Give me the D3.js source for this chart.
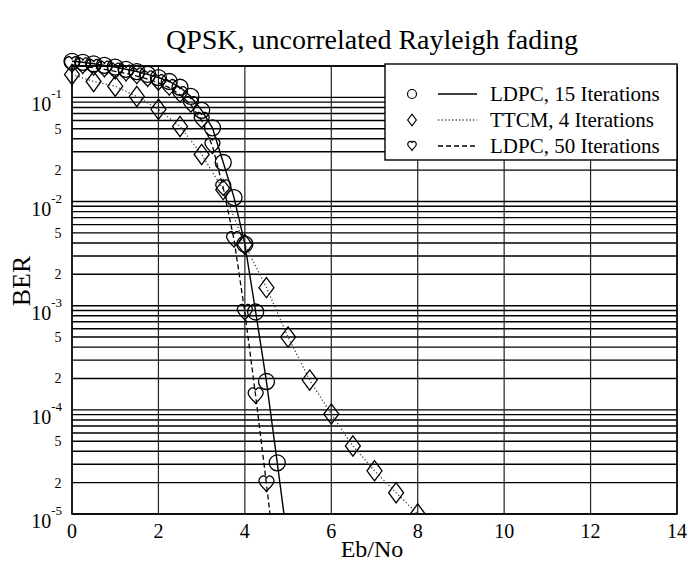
<!DOCTYPE html>
<html>
<head>
<meta charset="utf-8">
<script src="https://cdn.jsdelivr.net/npm/d3@7/dist/d3.min.js"></script>
<style>
  html, body { margin: 0; padding: 0; background: #fff; }
  svg { display: block; font-family: "Liberation Serif", "DejaVu Serif", "Times New Roman", serif; }
</style>
</head>
<body>
<svg id="chart" width="688" height="564"></svg>
<script>
// Eb/No (dB) sample points and measured BER for each decoder
const ldpc15X = [0, 0.25, 0.5, 0.75, 1.0, 1.25, 1.5, 1.75, 2.0, 2.25, 2.5, 2.75, 3.0, 3.25, 3.5, 3.75, 4.0, 4.25, 4.5, 4.75, 5.0];
const ldpc15Y = [0.222, 0.217, 0.210, 0.203, 0.195, 0.186, 0.177, 0.166, 0.155, 0.142, 0.125, 0.102, 0.075, 0.051, 0.0237, 0.0109, 0.0039, 8.7e-4, 1.87e-4, 3.1e-5, 5e-6];

const ttcmX = [0, 0.5, 1.0, 1.5, 2.0, 2.5, 3.0, 3.5, 4.0, 4.5, 5.0, 5.5, 6.0, 6.5, 7.0, 7.5, 8.0];
const ttcmY = [0.166, 0.142, 0.128, 0.102, 0.0767, 0.0526, 0.0283, 0.0130, 3.86e-3, 1.49e-3, 5.0e-4, 1.93e-4, 9.1e-5, 4.5e-5, 2.6e-5, 1.6e-5, 1.0e-5];

const ldpc50X = [0, 0.25, 0.5, 0.75, 1.0, 1.25, 1.5, 1.75, 2.0, 2.25, 2.5, 2.75, 3.0, 3.25, 3.5, 3.75, 4.0, 4.25, 4.5, 4.75];
const ldpc50Y = [0.205, 0.200, 0.193, 0.186, 0.178, 0.170, 0.160, 0.150, 0.138, 0.124, 0.106, 0.085, 0.060, 0.034, 0.0135, 4.3e-3, 8.6e-4, 1.36e-4, 1.94e-5, 2.5e-6];

const seriesNames = ["LDPC, 15 Iterations", "TTCM, 4 Iterations", "LDPC, 50 Iterations"];
const xTicks = [0, 2, 4, 6, 8, 10, 12, 14];
const yDecades = [-5, -4, -3, -2, -1];
const yMinorLabels = ["2", "5"];

const svg = d3.select("#chart");
const L = 72, R = 677, T = 66, B = 514;

const x = d3.scaleLinear().domain([0, 14]).range([L, R]);
const y = d3.scaleLog().domain([1e-5, 0.2]).range([B, T]);

// clip: keep everything above the bottom axis, allow markers to poke over the top
svg.append("clipPath").attr("id", "plotClip")
  .append("rect").attr("x", 0).attr("y", 0).attr("width", 688).attr("height", B + 0.5);

// grid: every mantissa 1..9 in each decade, plus the Eb/No ticks
const gridVals = [];
yDecades.forEach(k => {
  for (let m = 1; m <= 9; m++) {
    const v = m * Math.pow(10, k);
    if (v <= 0.2 + 1e-12) gridVals.push(v);
  }
});
const grid = svg.append("g");
grid.selectAll("line.h").data(gridVals).enter().append("line")
  .attr("x1", L).attr("x2", R)
  .attr("y1", d => y(d)).attr("y2", d => y(d))
  .attr("stroke", "#000").attr("stroke-width", 1.4);
grid.selectAll("line.v").data(xTicks).enter().append("line")
  .attr("x1", d => x(d)).attr("x2", d => x(d))
  .attr("y1", T).attr("y2", B)
  .attr("stroke", "#222").attr("stroke-width", 1.2);

// frame
svg.append("rect").attr("x", L).attr("y", T).attr("width", R - L).attr("height", B - T)
  .attr("fill", "none").attr("stroke", "#000").attr("stroke-width", 1.5);

// x tick labels
svg.append("g").selectAll("text").data(xTicks).enter().append("text")
  .attr("x", d => x(d)).attr("y", 538)
  .attr("text-anchor", "middle").attr("font-size", 20).text(d => d);

// y tick labels: 10^k at decades, "5" and "2" in between
const yLab = svg.append("g");
yDecades.forEach(k => {
  const t = yLab.append("text").attr("x", 62).attr("y", y(Math.pow(10, k)) + 14)
    .attr("text-anchor", "end").attr("font-size", 20);
  t.append("tspan").text("10");
  t.append("tspan").attr("font-size", 13).attr("dy", -13).text(String(k));
  if (k < -1) {
    yMinorLabels.forEach(m => {
      yLab.append("text").attr("x", 58).attr("y", y(+m * Math.pow(10, k)) + 5)
        .attr("text-anchor", "middle").attr("font-size", 14).text(m);
    });
  }
});

// titles
svg.append("text").attr("x", 372).attr("y", 49).attr("text-anchor", "middle")
  .attr("font-size", 28).text("QPSK, uncorrelated Rayleigh fading");
svg.append("text").attr("x", 372).attr("y", 557).attr("text-anchor", "middle")
  .attr("font-size", 24).text("Eb/No");
svg.append("text").attr("transform", "translate(30,281) rotate(-90)")
  .attr("text-anchor", "middle").attr("font-size", 26).text("BER");

// marker shapes
const heartPath = s => {
  const k = s / 7;
  const p = [[0,7],[-2,4],[-7,1],[-7,-3],[-7,-6],[-4,-8],[-2,-7.5],[-1,-7],[0,-6],[0,-5],[0,-6],[1,-7],[2,-7.5],[4,-8],[7,-6],[7,-3],[7,1],[2,4],[0,7]]
    .map(([a,b]) => [a*k, b*k]);
  let d = `M${p[0][0]},${p[0][1]}`;
  for (let i = 1; i < p.length; i += 3)
    d += `C${p[i][0]},${p[i][1]} ${p[i+1][0]},${p[i+1][1]} ${p[i+2][0]},${p[i+2][1]}`;
  return d + "Z";
};
const markers = {
  circle: (g, s) => g.append("circle").attr("r", s),
  diamond: (g, s) => g.append("path").attr("d", `M0,${-s*1.35}L${s},0L0,${s*1.35}L${-s},0Z`),
  heart: (g, s) => g.append("path").attr("d", heartPath(s))
};

const series = [
  { xs: ldpc15X, ys: ldpc15Y, marker: "circle", size: 8, dash: null, color: "#000", width: 1.4 },
  { xs: ttcmX, ys: ttcmY, marker: "diamond", size: 7.5, dash: "1.3,2.2", color: "#444", width: 1.3 },
  { xs: ldpc50X, ys: ldpc50Y, marker: "heart", size: 7.5, dash: "5,3", color: "#000", width: 1.3 }
];

const plot = svg.append("g").attr("clip-path", "url(#plotClip)");
const line = d3.line().x(d => x(d[0])).y(d => y(d[1]));
series.forEach(s => {
  const pts = s.xs.map((v, i) => [v, s.ys[i]]);
  plot.append("path").datum(pts).attr("d", line)
    .attr("fill", "none").attr("stroke", s.color).attr("stroke-width", s.width)
    .attr("stroke-dasharray", s.dash);
  pts.forEach(p => {
    const g = plot.append("g").attr("transform", `translate(${x(p[0])},${y(p[1])})`);
    markers[s.marker](g, s.size).attr("fill", "none").attr("stroke", "#000").attr("stroke-width", 1.3);
  });
});

// legend
const lg = svg.append("g");
lg.append("rect").attr("x", 385).attr("y", 64).attr("width", R - 385).attr("height", 96)
  .attr("fill", "#fff").attr("stroke", "#000").attr("stroke-width", 1.4);
series.forEach((s, i) => {
  const cy = 94 + i * 26;
  const g = lg.append("g").attr("transform", `translate(412,${cy})`);
  markers[s.marker](g, s.marker === "circle" ? 4.5 : 4.3).attr("fill", "none").attr("stroke", "#000").attr("stroke-width", 1.2);
  lg.append("line").attr("x1", 438).attr("x2", 477).attr("y1", cy).attr("y2", cy)
    .attr("stroke", s.color).attr("stroke-width", s.width).attr("stroke-dasharray", s.dash);
  lg.append("text").attr("x", 490).attr("y", cy + 7).attr("font-size", 21).text(seriesNames[i]);
});
</script>
</body>
</html>
